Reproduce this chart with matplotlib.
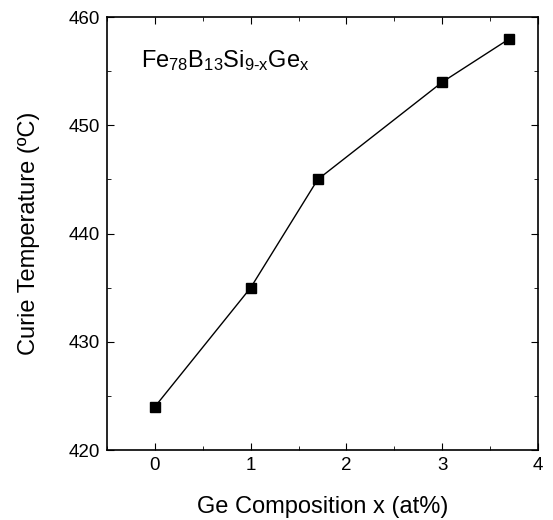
import matplotlib
matplotlib.use('Agg')
import matplotlib.pyplot as plt
from matplotlib.ticker import MultipleLocator

plt.rcParams['font.family'] = ['Liberation Sans', 'DejaVu Sans']
plt.rcParams['mathtext.fontset'] = 'custom'
plt.rcParams['mathtext.rm'] = 'Liberation Sans'
plt.rcParams['mathtext.it'] = 'Liberation Sans'

# Ge content vs Curie temperature
ge_x = [0, 1, 1.7, 3, 3.7]
curie_t = [424, 435, 445, 454, 458]
x_ticks = [0, 1, 2, 3, 4]
y_ticks = [420, 430, 440, 450, 460]

fig = plt.figure(figsize=(5.53, 5.2), dpi=100)
ax = fig.add_axes([0.1935, 0.1346, 0.7795, 0.8324])

ax.plot(ge_x, curie_t, '-s', color='black', lw=1.0, ms=7.5, mfc='black')

ax.set_xlim(-0.5, 4)
ax.set_ylim(420, 460)
ax.set_xticks(x_ticks)
ax.set_yticks(y_ticks)
ax.xaxis.set_minor_locator(MultipleLocator(0.5))
ax.yaxis.set_minor_locator(MultipleLocator(5))
ax.tick_params(which='both', direction='in', top=True, right=True, labelsize=13.5)
ax.tick_params(which='major', length=5, pad=5)
ax.tick_params(which='minor', length=3)
for s in ax.spines.values():
    s.set_linewidth(1.2)

ax.set_xlabel('Ge Composition x (at%)', fontsize=17, labelpad=16)
ax.set_ylabel('Curie Temperature (ºC)', fontsize=17, labelpad=21)

ax.text(0.08, 0.9, r'Fe$_{78}$B$_{13}$Si$_{9\text{-}x}$Ge$_x$',
        transform=ax.transAxes, fontsize=17, va='center')

fig.savefig('out.png', dpi=100)
